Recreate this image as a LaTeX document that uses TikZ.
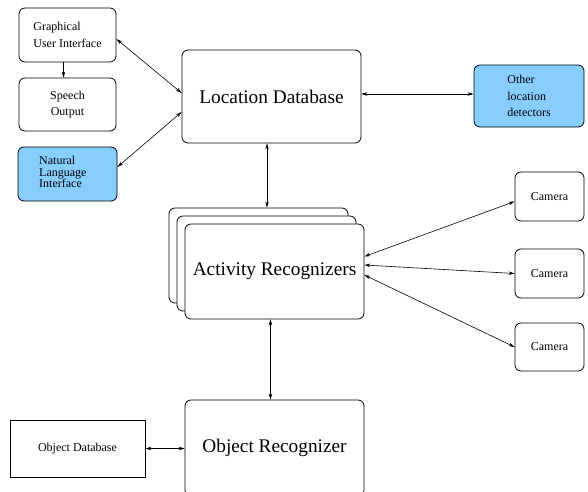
\documentclass[tikz,border=0pt]{standalone}
\usepackage{fontspec}
\setmainfont{Liberation Serif}
\usetikzlibrary{arrows.meta}
\definecolor{detblue}{RGB}{135,206,255}
\tikzset{
  box/.style={draw, rounded corners=6pt, line width=0.8pt, fill=white, inner sep=0pt},
  smalltext/.style={font=\fontsize{12}{16.7}\selectfont},
  bigtext/.style={font=\fontsize{19.3}{23}\selectfont},
  link/.style={{Stealth[length=6pt,width=3.5pt]}-{Stealth[length=6pt,width=3.5pt]}, line width=0.6pt},
  onelink/.style={-{Stealth[length=6pt,width=3.5pt]}, line width=0.6pt}
}
\begin{document}
\begin{tikzpicture}[x=1pt,y=-1pt]
    \useasboundingbox (0,0) rectangle (588,491);
    % left column
    \node[box, smalltext, minimum width=97pt, minimum height=54pt, align=left] (gui) at (67.5,35) {Graphical\\User Interface};
    \node[box, smalltext, minimum width=97pt, minimum height=53pt, align=center] (speech) at (67.5,104.5) {Speech\\Output};
    \node[box, fill=detblue, minimum width=99pt, minimum height=54pt] (nli) at (67.5,174) {};
    \node[anchor=west, align=left, inner sep=0pt, font=\fontsize{12}{11.8}\selectfont] (nlitext) at (39,172) {Natural\\Language\\Interface};
    % location database and other detectors
    \node[box, bigtext, minimum width=179pt, minimum height=93pt] (ldb) at (271.5,96.5) {Location Database};
    \node[box, smalltext, fill=detblue, minimum width=110pt, minimum height=62pt, align=left] (other) at (529,96) {Other\\location\\detectors};
    % stacked activity recognizers
    \node[box, minimum width=179pt, minimum height=95pt] (actb) at (258.5,255.5) {};
    \node[box, minimum width=179pt, minimum height=95pt] (actm) at (266.5,263.5) {};
    \node[box, bigtext, minimum width=179pt, minimum height=95pt] (actf) at (274.5,271.5) {Activity Recognizers};
    % cameras
    \node[box, smalltext, minimum width=69pt, minimum height=49pt] (cam1) at (549.5,196.5) {Camera};
    \node[box, smalltext, minimum width=69pt, minimum height=49pt] (cam2) at (549.5,273.5) {Camera};
    \node[box, smalltext, minimum width=69pt, minimum height=48pt] (cam3) at (549.5,347) {Camera};
    % object recognition
    \node[box, bigtext, minimum width=179pt, minimum height=96pt] (orec) at (274.5,448) {Object Recognizer};
    \node[draw, line width=0.8pt, smalltext, minimum width=135pt, minimum height=57pt] (odb) at (77.5,448.5) {Object Database};
    % connections
    \draw[link] ([yshift=-4pt]gui.east) -- ([yshift=3.5pt]ldb.west);
    \draw[onelink] ([xshift=-4pt]gui.south) -- ([xshift=-4pt]speech.north);
    \draw[link] ([yshift=7pt]nli.east) -- ([yshift=-15.5pt]ldb.west);
    \draw[link] ([yshift=2.5pt]ldb.east) -- ([yshift=2pt]other.west);
    \draw[link] ([xshift=-4.5pt]ldb.south) -- ([xshift=-4.5pt]ldb.south |- actb.north);
    \draw[link] ([yshift=15pt]actf.east) -- ([yshift=-5pt]cam1.west);
    \draw[link] ([yshift=6.5pt]actf.east) -- (cam2.west);
    \draw[link] ([yshift=-3.5pt]actf.east) -- (cam3.west);
    \draw[link] ([xshift=-4pt]actf.south) -- ([xshift=-4pt]orec.north);
    \draw[link] (odb.east) -- (orec.west |- odb.east);
\end{tikzpicture}
\end{document}
